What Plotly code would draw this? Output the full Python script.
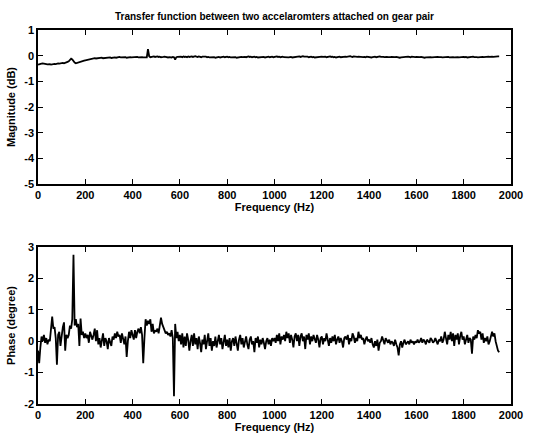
import plotly.graph_objects as go
from plotly.subplots import make_subplots

# Frequency axis (Hz), 5 Hz steps 0..1950
freq = list(range(0, 1955, 5))

magnitude_db = [
    -0.35, -0.33, -0.30, -0.31, -0.30, -0.32, -0.31, -0.33, -0.34, -0.32, -0.33, -0.35, -0.33, -0.31, -0.32, -0.33, -0.31, -0.30, -0.31, -0.29,
    -0.30, -0.28, -0.30, -0.27, -0.26, -0.24, -0.22, -0.18, -0.12, -0.15, -0.22, -0.27, -0.30, -0.28, -0.27, -0.25, -0.23, -0.22, -0.21, -0.19,
    -0.18, -0.17, -0.15, -0.14, -0.13, -0.12, -0.11, -0.12, -0.10, -0.11, -0.10, -0.09, -0.10, -0.09, -0.08, -0.10, -0.09, -0.08, -0.09, -0.07,
    -0.08, -0.07, -0.09, -0.08, -0.06, -0.07, -0.08, -0.06, -0.07, -0.05, -0.07, -0.06, -0.08, -0.07, -0.06, -0.08, -0.07, -0.05, -0.06, -0.07,
    -0.06, -0.05, -0.07, -0.06, -0.05, -0.07, -0.06, -0.05, -0.06, -0.07, -0.06, -0.05, -0.07, 0.25, -0.02, -0.06, -0.05, -0.04, -0.03, -0.05,
    -0.04, -0.03, -0.05, -0.04, -0.06, -0.07, -0.05, -0.04, -0.06, -0.05, -0.07, -0.06, -0.08, -0.07, -0.05, -0.06, -0.15, -0.06, -0.05, -0.04,
    -0.05, -0.04, -0.06, -0.03, -0.05, -0.04, -0.06, -0.03, -0.05, -0.04, -0.03, -0.05, -0.04, -0.02, -0.04, -0.05, -0.03, -0.04, -0.06, -0.04,
    -0.03, -0.05, -0.04, -0.06, -0.05, -0.07, -0.06, -0.05, -0.07, -0.06, -0.08, -0.07, -0.06, -0.05, -0.07, -0.06, -0.05, -0.04, -0.06, -0.05,
    -0.04, -0.06, -0.05, -0.07, -0.06, -0.08, -0.07, -0.06, -0.08, -0.07, -0.06, -0.07, -0.05, -0.06, -0.04, -0.05, -0.06, -0.04, -0.03, -0.05,
    -0.04, -0.06, -0.05, -0.04, -0.06, -0.05, -0.07, -0.06, -0.08, -0.07, -0.06, -0.05, -0.07, -0.06, -0.05, -0.04, -0.06, -0.05, -0.04, -0.06,
    -0.05, -0.04, -0.03, -0.05, -0.04, -0.06, -0.05, -0.04, -0.06, -0.07, -0.06, -0.08, -0.07, -0.06, -0.05, -0.07, -0.06, -0.04, -0.05, -0.03,
    -0.04, -0.03, -0.05, -0.04, -0.02, -0.04, -0.03, -0.05, -0.04, -0.06, -0.05, -0.04, -0.06, -0.05, -0.07, -0.06, -0.05, -0.04, -0.05, -0.03,
    -0.04, -0.05, -0.03, -0.04, -0.06, -0.05, -0.04, -0.03, -0.05, -0.04, -0.06, -0.05, -0.07, -0.06, -0.05, -0.04, -0.06, -0.05, -0.04, -0.03,
    -0.04, -0.05, -0.03, -0.04, -0.02, -0.04, -0.05, -0.03, -0.04, -0.06, -0.05, -0.04, -0.05, -0.06, -0.07, -0.06, -0.05, -0.06, -0.04, -0.05,
    -0.06, -0.05, -0.07, -0.06, -0.05, -0.04, -0.06, -0.05, -0.04, -0.03, -0.05, -0.04, -0.05, -0.06, -0.04, -0.05, -0.06, -0.07, -0.06, -0.05,
    -0.06, -0.07, -0.06, -0.05, -0.07, -0.06, -0.08, -0.07, -0.06, -0.05, -0.07, -0.06, -0.05, -0.04, -0.05, -0.06, -0.04, -0.05, -0.04, -0.06,
    -0.05, -0.06, -0.07, -0.06, -0.05, -0.07, -0.06, -0.08, -0.07, -0.06, -0.07, -0.05, -0.06, -0.07, -0.06, -0.05, -0.06, -0.04, -0.05, -0.06,
    -0.05, -0.06, -0.07, -0.06, -0.08, -0.07, -0.06, -0.05, -0.07, -0.06, -0.05, -0.06, -0.07, -0.06, -0.05, -0.06, -0.07, -0.06, -0.05, -0.04,
    -0.05, -0.06, -0.05, -0.07, -0.06, -0.05, -0.06, -0.05, -0.04, -0.06, -0.05, -0.06, -0.07, -0.06, -0.05, -0.04, -0.05, -0.06, -0.05, -0.04,
    -0.05, -0.04, -0.05, -0.03, -0.04, -0.05, -0.04, -0.03, -0.04, -0.03, -0.03,
]

phase_deg = [
    -0.30, -0.70, -0.20, 0.15, 0.00, 0.20, -0.05, 0.10, -0.10, 0.05, 0.00, 0.30, 0.78, 0.40, 0.45, 0.10, -0.75, 0.20, 0.30, -0.15,
    0.25, 0.45, 0.60, -0.30, 0.20, 0.10, 0.20, 0.50, 0.40, 0.70, 2.75, 0.50, 0.70, 0.45, 0.55, -0.15, 0.72, 0.20, 0.30, 0.10,
    0.25, 0.10, 0.20, -0.05, 0.30, 0.15, 0.05, 0.20, 0.40, 0.00, 0.35, -0.10, 0.10, -0.20, 0.05, 0.25, -0.15, 0.10, 0.00, -0.25,
    0.10, 0.00, -0.15, 0.15, 0.05, 0.25, 0.10, 0.30, 0.15, 0.20, -0.05, 0.25, 0.05, -0.10, 0.15, -0.50, 0.00, 0.30, 0.10, 0.35,
    0.20, 0.05, 0.35, 0.10, 0.30, 0.40, 0.25, 0.45, 0.20, -0.70, 0.10, 0.70, 0.50, 0.65, 0.55, 0.70, 0.30, 0.55, 0.25, 0.35,
    0.30, 0.40, 0.25, 0.60, 0.75, 0.55, 0.45, 0.40, 0.25, 0.30, 0.20, 0.25, 0.15, 0.35, 0.10, -1.75, 0.55, 0.10, 0.30, 0.00,
    0.20, -0.10, 0.25, -0.20, 0.15, -0.15, 0.25, 0.05, -0.30, 0.00, 0.20, -0.15, 0.25, -0.10, 0.10, -0.25, 0.15, -0.05, -0.35, 0.05,
    -0.10, 0.20, -0.25, 0.00, 0.25, -0.15, 0.10, -0.30, 0.00, -0.15, 0.15, -0.20, 0.05, 0.20, -0.10, 0.10, -0.25, 0.00, 0.20, -0.15,
    0.05, -0.20, 0.10, -0.30, 0.00, 0.10, -0.15, 0.15, -0.05, -0.30, 0.05, 0.20, -0.10, 0.10, -0.20, 0.05, 0.15, -0.10, -0.25, 0.05,
    0.15, -0.10, 0.00, -0.35, 0.10, -0.05, 0.15, -0.20, 0.05, -0.10, 0.10, -0.05, -0.25, 0.00, 0.10, -0.10, 0.05, -0.15, 0.10, 0.00,
    0.10, -0.05, 0.20, 0.00, 0.25, -0.10, 0.15, 0.05, 0.20, 0.00, 0.30, 0.10, 0.25, -0.05, 0.20, 0.05, -0.20, 0.15, 0.25, 0.00,
    0.20, -0.15, 0.15, 0.25, 0.00, 0.15, -0.25, 0.20, 0.05, 0.25, -0.10, 0.15, 0.00, 0.20, 0.10, -0.05, 0.20, 0.05, -0.20, 0.10,
    0.15, -0.10, 0.10, 0.00, 0.25, 0.05, -0.15, 0.10, -0.05, 0.15, 0.00, 0.20, -0.10, 0.05, 0.15, -0.05, 0.10, 0.00, -0.20, 0.10,
    0.15, 0.05, 0.20, -0.10, 0.10, 0.00, 0.25, 0.15, -0.05, 0.10, 0.00, 0.30, 0.10, 0.20, 0.05, 0.10, -0.10, 0.05, 0.15, 0.00,
    0.05, -0.05, 0.10, -0.10, -0.20, 0.00, -0.15, 0.05, -0.30, -0.05, 0.00, 0.15, 0.05, -0.10, 0.10, 0.00, -0.05, 0.05, -0.10, 0.00,
    -0.05, -0.15, 0.05, -0.10, -0.20, -0.45, -0.10, 0.00, -0.20, -0.05, 0.05, -0.10, -0.05, 0.00, -0.10, 0.05, -0.05, 0.00, -0.10, 0.00,
    -0.05, 0.05, -0.05, 0.00, 0.10, -0.05, 0.05, 0.00, -0.10, 0.05, 0.00, -0.05, 0.10, 0.05, -0.05, 0.00, 0.10, 0.00, -0.10, 0.05,
    0.00, 0.15, -0.05, 0.05, 0.30, 0.10, -0.10, 0.20, 0.05, 0.30, 0.00, 0.25, -0.15, 0.20, 0.05, 0.25, -0.10, 0.15, 0.30, 0.05,
    0.15, -0.10, 0.10, 0.20, -0.05, 0.10, 0.05, -0.40, 0.15, 0.05, 0.20, 0.10, 0.35, 0.25, 0.30, 0.05, 0.25, -0.05, 0.10, 0.00,
    0.15, -0.10, 0.00, 0.20, 0.30, 0.15, 0.25, 0.00, -0.15, -0.30, -0.35,
]

x_ticks = [0, 200, 400, 600, 800, 1000, 1200, 1400, 1600, 1800, 2000]
mag_ticks = [1, 0, -1, -2, -3, -4, -5]
phase_ticks = [3, 2, 1, 0, -1, -2]

title_text = "Transfer function between two accelaromters attached on gear pair"
xlabel = "Frequency (Hz)"
ylabel_top = "Magnitude (dB)"
ylabel_bottom = "Phase (degree)"

FONT = "Liberation Sans, Arial, sans-serif"

fig = make_subplots(rows=2, cols=1, vertical_spacing=0.17)

fig.add_trace(go.Scatter(x=freq, y=magnitude_db, mode="lines",
                         line=dict(color="black", width=1.8), showlegend=False),
              row=1, col=1)
fig.add_trace(go.Scatter(x=freq, y=phase_deg, mode="lines",
                         line=dict(color="black", width=1.8), showlegend=False),
              row=2, col=1)

axis_common = dict(showline=True, linecolor="black", linewidth=1.5, mirror="ticks",
                   ticks="inside", ticklen=5, tickwidth=1.2, tickcolor="black",
                   showgrid=False, zeroline=False,
                   tickfont=dict(family=FONT, size=11, color="black", weight="bold"))

fig.update_xaxes(range=[0, 2000], tickvals=x_ticks, ticktext=[str(v) for v in x_ticks],
                 title=dict(text=xlabel, font=dict(family=FONT, size=11, color="black", weight="bold"),
                            standoff=2),
                 **axis_common)
fig.update_yaxes(**axis_common)
fig.update_yaxes(range=[-5, 1], tickvals=mag_ticks, ticktext=[str(v) for v in mag_ticks],
                 title=dict(text=ylabel_top, font=dict(family=FONT, size=11, color="black", weight="bold"),
                            standoff=6),
                 row=1, col=1)
fig.update_yaxes(range=[-2, 3], tickvals=phase_ticks, ticktext=[str(v) for v in phase_ticks],
                 title=dict(text=ylabel_bottom, font=dict(family=FONT, size=11, color="black", weight="bold"),
                            standoff=6),
                 row=2, col=1)

H = 434
top_m, bot_m = 30, 30
ph = H - top_m - bot_m
fig.update_layout(
    xaxis=dict(domain=[0, 1]),
    xaxis2=dict(domain=[0, 1]),
    yaxis=dict(domain=[(404 - 184) / ph, 1.0]),
    yaxis2=dict(domain=[0.0, (404 - 247) / ph]),
)

fig.update_layout(
    width=549, height=434,
    margin=dict(l=38, r=38, t=top_m, b=bot_m, autoexpand=False),
    paper_bgcolor="white", plot_bgcolor="white",
    annotations=[dict(text=title_text, x=0.5, xref="paper", y=1.0, yref="paper",
                      yshift=14, showarrow=False, xanchor="center", yanchor="middle",
                      font=dict(family=FONT, size=10, color="black", weight="bold"))],
)

fig.write_html("out.html")
